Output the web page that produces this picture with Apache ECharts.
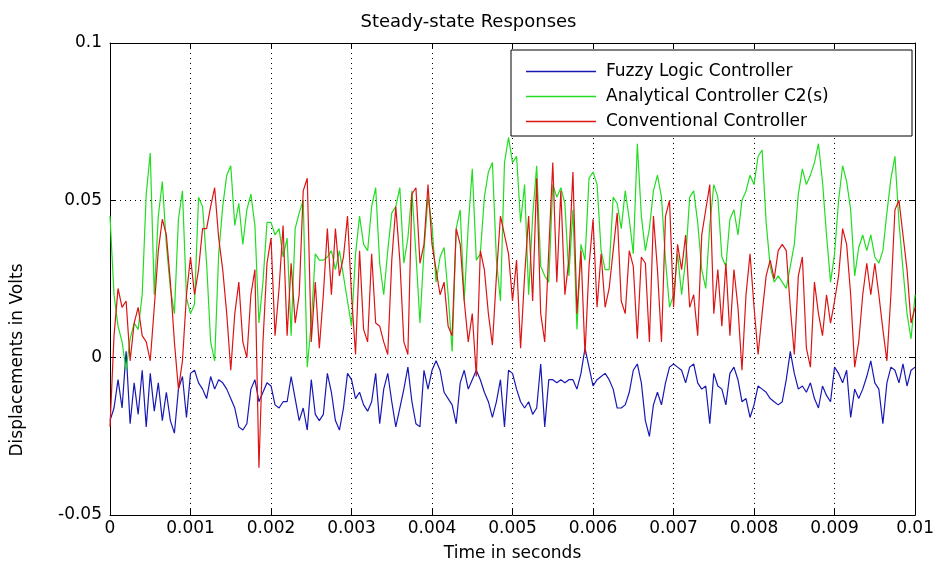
<!DOCTYPE html>
<html>
<head>
<meta charset="utf-8">
<script src="https://cdn.jsdelivr.net/npm/echarts@6/dist/echarts.min.js"></script>
<style>
html,body{margin:0;padding:0;background:#fff;}
#chart{width:937px;height:567px;}
</style>
</head>
<body>
<div id="chart"></div>
<script>
// ---- data ----
const timeStep = 0.00005; // sampling interval of the traces (s)
const xTicks = ['0','0.001','0.002','0.003','0.004','0.005','0.006','0.007','0.008','0.009','0.01'];
const yTicks = ['-0.05','0','0.05','0.1'];
const seriesNames = ['Fuzzy Logic Controller','Analytical Controller C2(s)','Conventional Controller'];

const fuzzy = [
-0.020,-0.016,-0.007,-0.016,0.002,-0.021,-0.008,-0.018,-0.004,-0.022,-0.005,-0.017,-0.008,-0.020,-0.011,-0.020,-0.024,-0.010,-0.006,-0.019,-0.005,-0.004,-0.008,-0.010,-0.013,-0.006,-0.010,-0.007,-0.008,-0.010,-0.013,-0.016,-0.022,-0.023,
-0.021,-0.010,-0.007,-0.014,-0.011,-0.008,-0.009,-0.015,-0.016,-0.014,-0.014,-0.006,-0.013,-0.020,-0.016,-0.023,-0.007,-0.018,-0.020,-0.018,-0.005,-0.011,-0.020,-0.023,-0.016,-0.005,-0.007,-0.013,-0.011,-0.015,-0.017,-0.014,-0.005,
-0.021,-0.010,-0.005,-0.014,-0.022,-0.016,-0.010,-0.003,-0.014,-0.021,-0.022,-0.004,-0.010,-0.004,-0.001,-0.004,-0.011,-0.013,-0.015,-0.021,-0.008,-0.004,-0.010,-0.007,-0.004,-0.007,-0.011,-0.014,-0.019,-0.014,-0.007,-0.022,-0.004,
-0.005,-0.010,-0.014,-0.016,-0.014,-0.018,-0.016,-0.002,-0.022,-0.007,-0.007,-0.008,-0.007,-0.008,-0.007,-0.007,-0.010,-0.005,0.003,-0.003,-0.009,-0.007,-0.006,-0.005,-0.007,-0.010,-0.016,-0.016,-0.015,-0.011,-0.004,-0.002,-0.008,-0.020,
-0.025,-0.015,-0.011,-0.015,-0.008,-0.003,-0.002,-0.003,-0.004,-0.008,-0.003,-0.002,-0.008,-0.010,-0.009,-0.021,-0.005,-0.009,-0.010,-0.015,-0.005,-0.003,-0.007,-0.014,-0.013,-0.019,-0.015,-0.009,-0.010,-0.011,-0.013,-0.014,-0.015,
-0.014,-0.007,0.002,-0.005,-0.010,-0.009,-0.011,-0.008,-0.013,-0.016,-0.009,-0.012,-0.014,-0.003,-0.005,-0.008,-0.004,-0.019,-0.010,-0.013,-0.010,-0.006,-0.001,-0.008,-0.010,-0.021,-0.008,-0.003,-0.004,-0.008,-0.002,-0.009,-0.004,-0.003
];

const analytical = [
0.045,0.020,0.010,0.005,-0.004,0.006,0.011,0.009,0.020,0.052,0.065,0.020,0.045,0.056,0.036,0.022,0.014,0.044,0.053,0.019,0.014,0.017,0.051,0.048,0.030,0.005,-0.001,0.033,0.048,0.058,0.061,0.042,0.049,0.036,
0.047,0.052,0.042,0.011,0.024,0.043,0.043,0.039,0.041,0.032,0.038,0.007,0.041,0.046,0.050,-0.003,0.011,0.033,0.031,0.031,0.032,0.034,0.028,0.034,0.026,0.018,0.010,0.033,0.045,0.036,0.034,0.048,0.054,
0.030,0.020,0.034,0.046,0.048,0.054,0.030,0.038,0.053,0.033,0.011,0.034,0.051,0.042,0.024,0.032,0.035,0.020,0.002,0.041,0.047,0.018,0.042,0.060,0.031,0.033,0.051,0.059,0.062,0.031,0.018,0.062,0.070,
0.062,0.064,0.043,0.055,0.020,0.045,0.061,0.029,0.026,0.024,0.055,0.051,0.054,0.049,0.026,0.047,0.009,0.036,0.031,0.057,0.059,0.055,0.034,0.028,0.028,0.051,0.049,0.041,0.053,0.044,0.033,0.068,0.045,0.034,
0.041,0.053,0.058,0.051,0.031,0.016,0.020,0.033,0.020,0.031,0.051,0.053,0.043,0.028,0.022,0.042,0.055,0.051,0.032,0.029,0.044,0.047,0.039,0.050,0.053,0.058,0.055,0.064,0.066,0.043,0.029,0.024,0.026,
0.024,0.022,0.029,0.036,0.052,0.060,0.055,0.058,0.062,0.068,0.056,0.039,0.024,0.033,0.050,0.061,0.056,0.047,0.026,0.035,0.039,0.034,0.039,0.032,0.030,0.034,0.046,0.057,0.064,0.043,0.028,0.014,0.006,0.020
];

const conventional = [
-0.022,0.007,0.022,0.016,0.018,-0.001,0.011,0.016,0.007,0.005,-0.001,0.016,0.034,0.044,0.039,0.024,0.005,-0.010,-0.001,0.020,0.032,0.020,0.028,0.041,0.041,0.048,0.054,0.038,0.028,0.014,-0.004,0.014,0.024,0.005,
0.000,0.020,0.028,-0.035,0.005,0.030,0.038,0.007,0.022,0.042,0.007,0.030,0.011,0.020,0.053,0.057,0.005,0.024,0.003,0.020,0.041,0.020,0.041,0.026,0.032,0.045,0.020,0.001,0.034,0.009,0.005,0.033,0.011,
0.010,0.005,0.001,0.031,0.048,0.031,0.005,0.001,0.052,0.054,0.030,0.036,0.055,0.036,0.028,0.020,0.024,0.010,0.007,0.041,0.036,0.018,0.005,0.014,-0.006,0.034,0.028,0.014,0.004,0.026,0.045,0.039,0.033,
0.018,0.031,0.003,0.026,0.045,0.018,0.057,0.014,0.005,0.034,0.062,0.024,0.053,0.020,0.031,0.059,0.014,0.034,0.001,0.029,0.044,0.016,0.033,0.016,0.022,0.034,0.046,0.018,0.014,0.034,0.029,0.006,0.032,0.030,
0.005,0.045,0.028,0.005,0.045,0.050,0.016,0.036,0.028,0.039,0.016,0.020,0.007,0.039,0.047,0.055,0.014,0.028,0.010,0.030,0.007,0.028,0.016,-0.004,0.020,0.033,0.016,0.001,0.014,0.026,0.031,0.025,0.034,
0.036,0.034,0.016,0.001,0.026,0.032,0.003,-0.003,0.024,0.014,0.007,0.020,0.011,0.018,0.026,0.041,0.036,0.020,-0.003,0.005,0.020,0.030,0.020,0.030,0.020,0.009,-0.001,0.020,0.047,0.050,0.039,0.028,0.011,0.016
];

// ---- build ----
const pair = arr => arr.map((v, i) => [i * timeStep, v]);
const FONT = "'DejaVu Sans', sans-serif";
const axisCommon = {
  type: 'value',
  axisLine: { show: true, onZero: false, lineStyle: { color: '#000', width: 1 } },
  axisTick: { show: true, inside: true, length: 6, lineStyle: { color: '#000' } }
};
const chart = echarts.init(document.getElementById('chart'), null, { renderer: 'canvas' });
chart.setOption({
  backgroundColor: '#fff',
  animation: false,
  title: {
    text: 'Steady-state Responses', left: 'center', top: 8,
    textStyle: { fontFamily: FONT, fontSize: 18, fontWeight: 'normal', color: '#000' }
  },
  grid: { left: 110, right: 21, top: 43, bottom: 47 },
  xAxis: [
    Object.assign({}, axisCommon, {
      min: 0, max: 0.01, interval: 0.001, position: 'bottom',
      name: 'Time in seconds', nameLocation: 'middle', nameGap: 30,
      nameTextStyle: { fontFamily: FONT, fontSize: 17, color: '#000' },
      axisLabel: { margin: 5, fontFamily: FONT, fontSize: 17, color: '#000',
        formatter: v => xTicks[Math.round(v / 0.001)] },
      splitLine: { show: true, lineStyle: { color: '#000', type: [1, 4], width: 1 } }
    }),
    Object.assign({}, axisCommon, {
      min: 0, max: 0.01, interval: 0.001, position: 'top',
      axisLabel: { show: false }, splitLine: { show: false }
    })
  ],
  yAxis: [
    Object.assign({}, axisCommon, {
      min: -0.05, max: 0.1, interval: 0.05, position: 'left',
      axisLabel: { margin: 8, fontFamily: FONT, fontSize: 17, color: '#000',
        formatter: v => yTicks[Math.round((v + 0.05) / 0.05)] },
      splitLine: { show: true, lineStyle: { color: '#000', type: [1, 4], width: 1 } }
    }),
    Object.assign({}, axisCommon, {
      min: -0.05, max: 0.1, interval: 0.05, position: 'right',
      axisLabel: { show: false }, splitLine: { show: false }
    })
  ],
  legend: {
    orient: 'vertical', left: 521, top: 58, z: 20,
    icon: 'rect', itemWidth: 70, itemHeight: 1.3, itemGap: 8,
    textStyle: { fontFamily: FONT, fontSize: 17, color: '#000', padding: [0, 0, 0, 5] },
    data: seriesNames
  },
  graphic: [
    { type: 'rect', z: 15, shape: { x: 511, y: 50, width: 401, height: 86 },
      style: { fill: '#fff', stroke: '#000', lineWidth: 1 } },
    { type: 'text', z: 15, x: 18, y: 360, rotation: Math.PI / 2,
      style: { text: 'Displacements in Volts', fontFamily: FONT, fontSize: 17, fill: '#000',
        textAlign: 'center', textVerticalAlign: 'middle' } }
  ],
  series: [
    { name: seriesNames[0], type: 'line', data: pair(fuzzy), showSymbol: false, symbol: 'none',
      lineStyle: { color: '#1818b4', width: 1.2 }, itemStyle: { color: '#1818b4' } },
    { name: seriesNames[1], type: 'line', data: pair(analytical), showSymbol: false, symbol: 'none',
      lineStyle: { color: '#22dd22', width: 1.2 }, itemStyle: { color: '#22dd22' } },
    { name: seriesNames[2], type: 'line', data: pair(conventional), showSymbol: false, symbol: 'none',
      lineStyle: { color: '#dd1414', width: 1.2 }, itemStyle: { color: '#dd1414' } }
  ]
});
</script>
</body>
</html>
